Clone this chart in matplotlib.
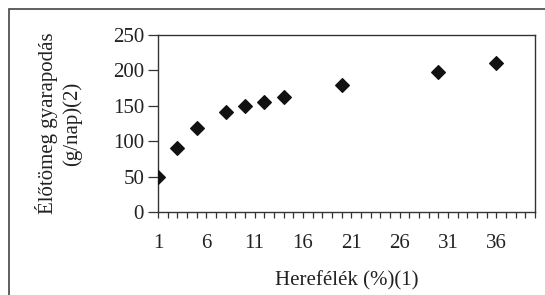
import matplotlib.pyplot as plt
from matplotlib.patches import Rectangle
from matplotlib.ticker import MultipleLocator, FixedLocator

# Data
herefelek = [1, 3, 5, 8, 10, 12, 14, 20, 30, 36]
gyarapodas = [50, 90, 118, 141, 150, 156, 163, 180, 198, 211]
x_ticks = [1, 6, 11, 16, 21, 26, 31, 36]
y_ticks = [0, 50, 100, 150, 200, 250]

plt.rcParams['font.family'] = ['Liberation Serif', 'DejaVu Serif']

fig = plt.figure(figsize=(5.45, 2.95), dpi=100)
fig.patch.set_facecolor('white')

# outer chart border (only left/top visible in the crop)
fig.add_artist(Rectangle((9 / 545, -0.1), 1.2, (295 - 9) / 295 + 0.1,
                         transform=fig.transFigure, fill=False,
                         edgecolor='#444444', linewidth=1.2))

ax = fig.add_axes([158 / 545, (295 - 212) / 295, 377 / 545, 177 / 295])
ax.scatter(herefelek, gyarapodas, marker='D', s=48, color='#111111', zorder=3)

ax.set_xlim(1, 40)
ax.set_ylim(0, 250)
ax.xaxis.set_major_locator(FixedLocator(x_ticks))
ax.xaxis.set_minor_locator(MultipleLocator(1))
ax.yaxis.set_major_locator(FixedLocator(y_ticks))

for s in ax.spines.values():
    s.set_color('#333333')
    s.set_linewidth(1.0)

ax.tick_params(axis='x', which='both', direction='out', length=4, width=0.9,
               colors='#333333', labelcolor='#222222', labelsize=15, pad=12)
ax.tick_params(axis='y', which='major', direction='out', length=7, width=0.9,
               colors='#333333', labelcolor='#222222', labelsize=15, pad=3)

ax.set_xlabel('Herefélék (%)(1)', fontsize=15, color='#222222')
ax.xaxis.set_label_coords(0.5, -0.335)
ax.set_ylabel('Élőtömeg gyarapodás\n(g/nap)(2)', fontsize=15, color='#222222',
              linespacing=1.3, labelpad=22)

fig.savefig('out.png', dpi=100)
